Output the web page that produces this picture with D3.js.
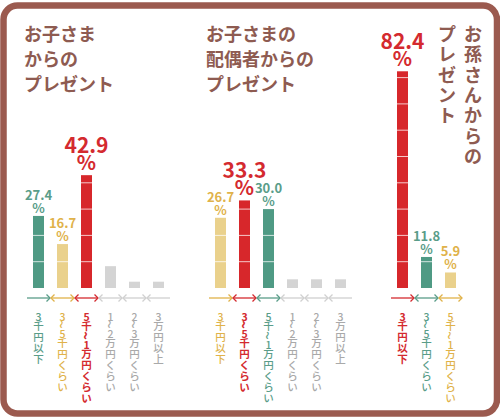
<!DOCTYPE html>
<html>
<head>
<meta charset="utf-8">
<script src="https://cdn.jsdelivr.net/npm/d3@7"></script>
<style>
  body { margin: 0; background: #fff; }
  text { font-family: 'Noto Sans CJK JP', 'Noto Sans', sans-serif; }
</style>
</head>
<body>
<div id="chart"></div>
<script>
var categories = ['3千円以下', '3~5千円くらい', '5千~1万円くらい', '1~2万円くらい', '2~3万円くらい', '3万円以上'];
var childValues = [27.4, 16.7, 42.9, 8.3, 2.4, 2.4];
var spouseValues = [26.7, 33.3, 30.0, 3.3, 3.3, 3.3];
var grandchildValues = [82.4, 11.8, 5.9];
var childTitle = ['お子さま', 'からの', 'プレゼント'];
var spouseTitle = ['お子さまの', '配偶者からの', 'プレゼント'];
var grandchildTitle = ['お孫さんからの', 'プレゼント'];

var barColors = ['#d7272b', '#4f9a84', '#ead18c'];
var textColors = ['#d42a2f', '#5a9d89', '#e0b24a'];
var greyBar = '#d4d4d4', greyText = '#a9a9a9', greyArrow = '#d0d0d0';
var brown = '#9b5a4f', titleColor = '#8e5b51';

var width = 500, height = 418;
var svg = d3.select('#chart').append('svg')
  .attr('width', width)
  .attr('height', height);

svg.append('rect')
  .attr('x', 3.5).attr('y', 5.5)
  .attr('width', 493.5).attr('height', 408)
  .attr('rx', 14)
  .attr('fill', '#fff')
  .attr('stroke', brown)
  .attr('stroke-width', 6.5);

var y = d3.scaleLinear().domain([0, 100]).range([288, 25]);
var panelX = d3.scaleLinear().domain([0, 1]).range([0, 182]);

var panels = [
  { values: childValues, title: childTitle, vertical: false },
  { values: spouseValues, title: spouseTitle, vertical: false },
  { values: grandchildValues, title: grandchildTitle, vertical: true }
];

// draw text one glyph at a time top to bottom
function verticalText(g, str, x, y0, opts) {
  var pos = y0, prevAdv = null;
  Array.from(str).forEach(function (ch) {
    var half = /[0-9~]/.test(ch);
    var adv = half ? opts.half : opts.full;
    if (prevAdv !== null) pos += (prevAdv + adv) / 2;
    prevAdv = adv;
    var t = g.append('text')
      .attr('x', x).attr('y', pos)
      .attr('text-anchor', 'middle')
      .attr('dominant-baseline', 'central')
      .attr('font-size', opts.size)
      .attr('font-weight', opts.weight)
      .attr('fill', opts.color)
      .text(ch);
    if (ch === '~') {
      // upright wave, like a vertical 〜
      t.attr('font-size', opts.size * 1.4)
        .attr('transform', 'rotate(90,' + x + ',' + pos + ')');
    }
  });
}

function arrow(g, x1, x2, yy, left, right, color) {
  g.append('line')
    .attr('x1', x1).attr('x2', x2).attr('y1', yy).attr('y2', yy)
    .attr('stroke', color).attr('stroke-width', 1.3);
  var h = 3.5;
  if (right) g.append('path')
    .attr('d', 'M' + (x2 - h) + ',' + (yy - h) + 'L' + x2 + ',' + yy + 'L' + (x2 - h) + ',' + (yy + h))
    .attr('fill', 'none').attr('stroke', color).attr('stroke-width', 1.3);
  if (left) g.append('path')
    .attr('d', 'M' + (x1 + h) + ',' + (yy - h) + 'L' + x1 + ',' + yy + 'L' + (x1 + h) + ',' + (yy + h))
    .attr('fill', 'none').attr('stroke', color).attr('stroke-width', 1.3);
}

panels.forEach(function (p, pi) {
  var x0 = panelX(pi);
  var g = svg.append('g');
  var cats = categories.slice(0, p.values.length);
  var x = d3.scalePoint().domain(cats)
    .range([x0 + 26.5, x0 + 26.5 + cats.length * 24]).padding(0.5);
  var bw = 11;

  // rank -> colour
  var order = d3.range(p.values.length).sort(function (a, b) { return p.values[b] - p.values[a]; });
  var rank = [];
  order.forEach(function (idx, r) { rank[idx] = r; });

  // title
  if (!p.vertical) {
    p.title.forEach(function (line, li) {
      g.append('text')
        .attr('x', x0 + 24).attr('y', 41 + li * 25)
        .attr('font-size', 18).attr('font-weight', 700)
        .attr('fill', titleColor)
        .text(line);
    });
  } else {
    p.title.forEach(function (line, li) {
      verticalText(g, line, 473 - li * 26, 33, { size: 18, weight: 700, color: titleColor, full: 20.3, half: 20.3 });
    });
  }

  cats.forEach(function (c, i) {
    var v = p.values[i];
    var r = rank[i];
    var top3 = r < 3;
    var cx = x(c);
    var barCol = top3 ? barColors[r] : greyBar;
    var txtCol = top3 ? textColors[r] : greyText;
    var arrCol = top3 ? textColors[r] : greyArrow;

    g.append('rect')
      .attr('x', cx - bw / 2).attr('y', y(v))
      .attr('width', bw).attr('height', y(0) - y(v))
      .attr('fill', barCol);

    for (var k = 10; k < v; k += 10) {
      g.append('line')
        .attr('x1', cx - bw / 2).attr('x2', cx + bw / 2)
        .attr('y1', y(k)).attr('y2', y(k))
        .attr('stroke', '#fff').attr('stroke-opacity', 0.75).attr('stroke-width', 1);
    }

    if (top3) {
      var big = r === 0;
      // value and % stacked in one text element
      var lab = g.append('text')
        .attr('text-anchor', 'middle')
        .attr('font-size', big ? 21 : 13).attr('font-weight', 700)
        .attr('fill', txtCol);
      lab.append('tspan')
        .attr('x', cx).attr('y', y(v) - (big ? 22 : 16))
        .text(d3.format('.1f')(v));
      lab.append('tspan')
        .attr('x', cx).attr('y', y(v) - (big ? 5 : 3))
        .attr('font-size', big ? 20 : 13)
        .text('%');
    }

    var ci = categories.indexOf(c);
    arrow(g, cx - 11.5, cx + 11.5, 298, ci > 0, ci < categories.length - 1, arrCol);

    verticalText(g, c, cx, 316, { size: 10.5, weight: r === 0 ? 700 : 500, color: txtCol, full: 11, half: 8.5 });
  });
});
</script>
</body>
</html>
